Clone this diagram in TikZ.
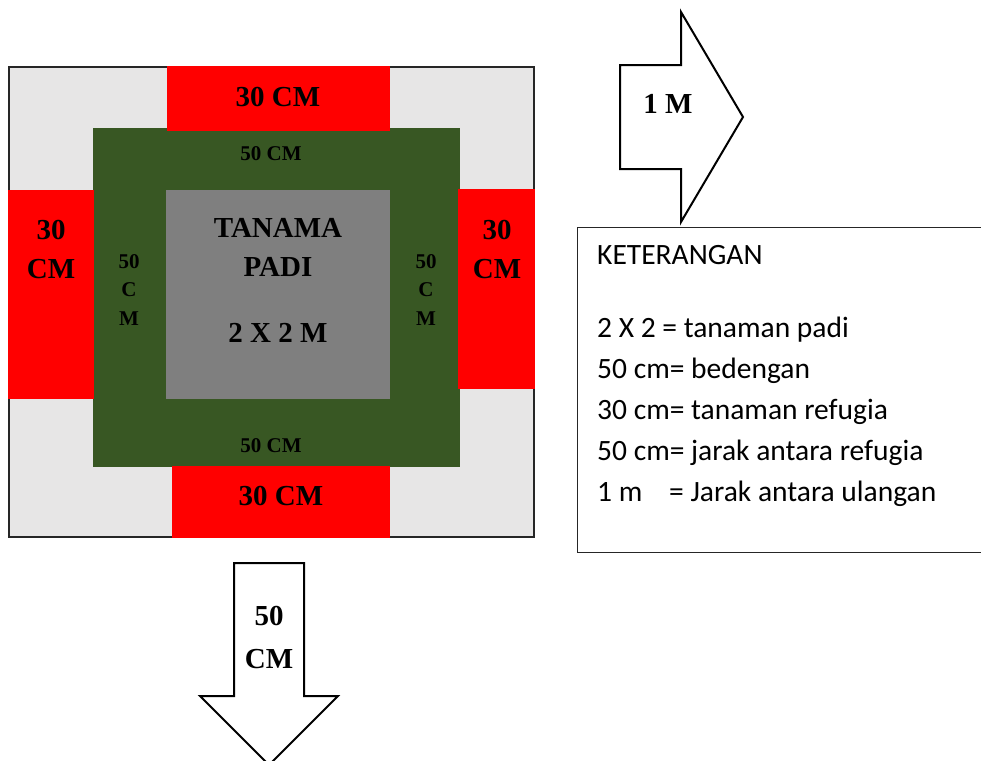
\documentclass[tikz,border=0pt]{standalone}
\usepackage{fontspec}
\setmainfont{Liberation Serif}
\newfontfamily\legendfont{Carlito}
\definecolor{bedgreen}{HTML}{385723}
\definecolor{padigray}{HTML}{7F7F7F}
\definecolor{fieldgray}{HTML}{E7E6E6}
\definecolor{refred}{HTML}{FF0000}
\definecolor{framecol}{HTML}{262626}
\begin{document}
\begin{tikzpicture}[x=1pt,y=-1pt,
  bigtxt/.style={font=\fontsize{29}{34}\selectfont\bfseries, inner sep=0pt, anchor=base},
  smalltxt/.style={font=\fontsize{21}{25}\selectfont\bfseries, inner sep=0pt, anchor=base},
  legtxt/.style={font=\legendfont\fontsize{29.5}{34}\selectfont, inner sep=0pt, anchor=base west},
  arrowshape/.style={draw=black, line width=2pt, fill=white, line join=miter},
  refugia/.style={fill=refred}]
\useasboundingbox (0,0) rectangle (981,760);
% field
\draw[fill=fieldgray, draw=framecol, line width=2pt] (9,67) rectangle (534,537);
\fill[bedgreen] (93,128) rectangle (460,467);
\fill[padigray] (166,190) rectangle (390,399);
\fill[refugia] (167,66) rectangle (390,131);
\fill[refugia] (8,190) rectangle (94,399);
\fill[refugia] (458,189) rectangle (535,389);
\fill[refugia] (172,466) rectangle (390,538);
% labels
\node[bigtxt] (t30) at (278,106) {30 CM};
\node[bigtxt] (b30) at (281,505) {30 CM};
\node[bigtxt] (l30a) at (51,239) {30};
\node[bigtxt] (l30b) at (51,278) {CM};
\node[bigtxt] (r30a) at (497,239) {30};
\node[bigtxt] (r30b) at (497,278) {CM};
\node[smalltxt] (g50t) at (271,160) {50 CM};
\node[smalltxt] (g50b) at (271,452) {50 CM};
\node[smalltxt] (lv1) at (129,268) {50};
\node[smalltxt] (lv2) at (129,296) {C};
\node[smalltxt] (lv3) at (129,325) {M};
\node[smalltxt] (rv1) at (426,268) {50};
\node[smalltxt] (rv2) at (426,296) {C};
\node[smalltxt] (rv3) at (426,325) {M};
\node[bigtxt] (c1) at (278,237) {TANAMA};
\node[bigtxt] (c2) at (278,276) {PADI};
\node[bigtxt] (c3) at (278,342) {2 X 2 M};
% right arrow
\draw[arrowshape] (620,65) -- (681,65) -- (681,12) -- (743,117) -- (681,222) -- (681,169) -- (620,169) -- cycle;
\node[bigtxt] (oneM) at (668,113) {1 M};
% down arrow
\begin{scope}
\clip (0,0) rectangle (981,760);
\draw[arrowshape] (234,563) -- (304,563) -- (304,696) -- (338,696) -- (269,765) -- (200,696) -- (234,696) -- cycle;
\end{scope}
\node[bigtxt] (d50) at (269,625) {50};
\node[bigtxt] (dcm) at (269,668) {CM};
% legend
\draw[draw=framecol, line width=1pt, fill=white] (577,227) rectangle (990,552);
\node[legtxt] (k0) at (597,264) {KETERANGAN};
\node[legtxt] (k1) at (597,337) {2 X 2 = tanaman padi};
\node[legtxt] (k2) at (597,378) {50 cm= bedengan};
\node[legtxt] (k3) at (597,419) {30 cm= tanaman refugia};
\node[legtxt] (k4) at (597,460) {50 cm= jarak antara refugia};
\node[legtxt] (k5) at (597,501) {1 m};
\node[legtxt] (k5b) at (669,501) {= Jarak antara ulangan};
\end{tikzpicture}
\end{document}
